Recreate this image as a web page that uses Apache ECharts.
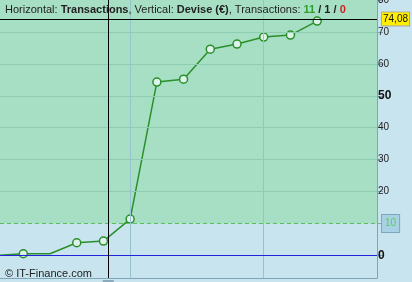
<!DOCTYPE html>
<html><head><meta charset="utf-8">
<script src="https://cdn.jsdelivr.net/npm/echarts@6/dist/echarts.min.js"></script>
<style>html,body{margin:0;padding:0;background:#c7e4ef}#c{width:412px;height:282px}</style>
</head><body><div id="c"></div>
<script>
// Data
const tradeIndex = [0, 1, 2, 3, 4, 5, 6, 7, 8, 9, 10, 11, 12];
const equity = [0, 0.53, 0.53, 3.97, 4.5, 11.39, 54.3, 55.2, 64.6, 66.2, 68.4, 69.0, 73.4];
const outcome = ['start', 'win', 'even', 'win', 'win', 'win', 'win', 'win', 'win', 'win', 'win', 'win', 'win'];
const yTickValues = [0, 10, 20, 30, 40, 50, 60, 70, 80];
const yLabelValues = [0, 20, 30, 40, 50, 60, 70, 80];
const gridYValues = [20, 30, 40, 50, 60, 70];
const gridXValues = [5, 10];
const threshold = 10;
const cursorX = 4.18;
const cursorY = 74.08;
const cursorLabel = '74,08';
const counts = { win: 11, even: 1, loss: 0 };

const FONT = 'Liberation Sans, Arial, sans-serif';
const chart = echarts.init(document.getElementById('c'), null, { renderer: 'canvas' });

const lineData = tradeIndex.map((x, i) => {
  const item = { value: [x, equity[i]] };
  if (outcome[i] !== 'win') item.symbol = 'none';
  return item;
});

chart.setOption({
  animation: false,
  backgroundColor: '#c7e4ef',
  textStyle: { fontFamily: FONT },
  title: [{
    left: 0, top: -1,
    text: 'Horizontal: {b|Transactions}, Vertical: {b|Devise (€)}, Transactions: {g|' + counts.win + '} {b|/} {b|' + counts.even + '} {b|/} {r|' + counts.loss + '}',
    textStyle: {
      fontFamily: FONT, fontSize: 11, fontWeight: 'normal', color: '#222',
      rich: {
        b: { fontFamily: FONT, fontSize: 11, fontWeight: 'bold', color: '#222' },
        g: { fontFamily: FONT, fontSize: 11, fontWeight: 'bold', color: '#2f9e2f' },
        r: { fontFamily: FONT, fontSize: 11, fontWeight: 'bold', color: '#cc1f1f' }
      }
    }
  }, {
    left: 0, top: 263,
    text: '© IT-Finance.com',
    textStyle: { fontFamily: FONT, fontSize: 11, fontWeight: 'normal', color: '#222' }
  }],
  grid: { left: 0, top: 0, right: 35, bottom: 4, containLabel: false, outerBoundsMode: 'none' },
  xAxis: {
    type: 'value', min: 0.128, max: 14.24,
    axisLine: { show: true, onZero: false, lineStyle: { color: '#7fa5b6', width: 1 } },
    axisTick: { show: false }, axisLabel: { show: false }, splitLine: { show: false }
  },
  yAxis: {
    type: 'value', position: 'right', min: -7.07, max: 80,
    axisLine: { show: true, onZero: false, lineStyle: { color: '#7fa5b6', width: 1 } },
    axisTick: { show: true, length: 6, customValues: yTickValues, lineStyle: { color: '#7fa5b6' } },
    axisLabel: {
      show: true, margin: 1, customValues: yLabelValues, color: '#222', fontFamily: FONT, fontSize: 10,
      formatter: v => (v === 0 || v === 50) ? '{b|' + v + '}' : String(v),
      rich: { b: { fontFamily: FONT, fontSize: 12, fontWeight: 'bold', color: '#111' } }
    },
    splitLine: { show: false }
  },
  series: [{
    type: 'line', z: 1, silent: true,
    data: lineData, symbol: 'none', lineStyle: { opacity: 0 },
    markArea: {
      silent: true,
      itemStyle: { color: '#a7dfc5' },
      data: [[{ yAxis: threshold }, { yAxis: 80 }]]
    },
    markLine: {
      silent: true, symbol: 'none', animation: false,
      label: { show: false },
      data: [
        ...gridYValues.map(v => ({ yAxis: v, lineStyle: { color: '#8ecdb2', width: 1, type: 'solid' } })),
        ...gridXValues.map(v => ({ xAxis: v, lineStyle: { color: '#97c3cf', width: 1, type: 'solid' } })),
        { yAxis: 0, lineStyle: { color: '#2323dd', width: 1, type: 'solid' } },
        {
          yAxis: threshold, lineStyle: { color: '#5cbf5c', width: 1, type: [4, 3] },
          label: {
            show: true, position: 'end', distance: 5, formatter: String(threshold),
            color: '#62c962', fontFamily: FONT, fontSize: 10,
            backgroundColor: '#a6d2e4', borderColor: '#7ca8bd', borderWidth: 1, padding: [4, 3, 3, 3]
          }
        }
      ]
    }
  }, {
    type: 'line', z: 3, silent: true,
    data: lineData,
    symbol: 'circle', symbolSize: 8,
    lineStyle: { color: '#2a8f2a', width: 1.5 },
    itemStyle: { color: '#ddf2ea', borderColor: '#2a8f2a', borderWidth: 1.5 },
    markLine: {
      silent: true, symbol: 'none', animation: false,
      label: { show: false },
      data: [
        {
          xAxis: cursorX, lineStyle: { color: '#000', width: 1, type: 'solid' },
          label: {
            show: true, position: 'start', distance: 2, formatter: ' ',
            backgroundColor: '#8aaabb', width: 11, height: 10, padding: 0
          }
        },
        {
          yAxis: cursorY, lineStyle: { color: '#000', width: 1, type: 'solid' },
          label: {
            show: true, position: 'end', distance: 5, formatter: cursorLabel,
            color: '#111', fontFamily: FONT, fontSize: 10,
            backgroundColor: '#ffee00', borderColor: '#a9a9a9', borderWidth: 1, padding: [2, 1, 1, 1]
          }
        }
      ]
    }
  }]
});
</script></body></html>
